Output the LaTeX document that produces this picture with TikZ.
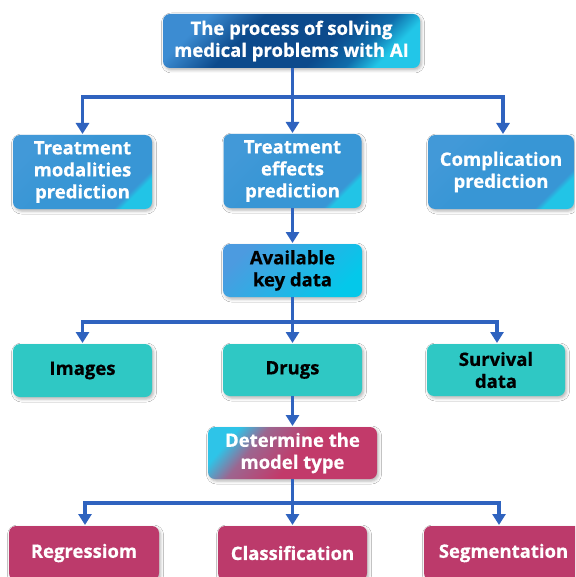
\documentclass[tikz,border=0pt]{standalone}
\usepackage{fontspec}
\setmainfont{Open Sans}[BoldFeatures={FakeBold=0.5}]
\usetikzlibrary{shadows.blur,arrows.meta}

% palette
\definecolor{wireblue}{HTML}{2F63BF}
\definecolor{navytop}{HTML}{3C8CD2}
\definecolor{navydeep}{HTML}{0C4A8C}
\definecolor{navymid}{HTML}{0F6CAA}
\definecolor{cyanhi}{HTML}{22C6E8}
\definecolor{skyA}{HTML}{4299D8}
\definecolor{skyB}{HTML}{3896D5}
\definecolor{skyC}{HTML}{22C4E6}
\definecolor{keyA}{HTML}{4C9BE0}
\definecolor{keyB}{HTML}{04C8EA}
\definecolor{tealbox}{HTML}{2FC8C4}
\definecolor{magbox}{HTML}{BC3A6B}
\definecolor{mixA}{HTML}{2EC4E8}
\definecolor{mixB}{HTML}{9C6690}
\definecolor{mixC}{HTML}{C23A6A}

% diagonal fills (used with a shading angle)
\pgfdeclareverticalshading{navyglass}{100bp}{color(0bp)=(cyanhi); color(25bp)=(cyanhi); color(32bp)=(navymid); color(41bp)=(navydeep); color(62bp)=(navydeep); color(75bp)=(navytop); color(100bp)=(navytop)}
\pgfdeclareverticalshading{skyglass}{100bp}{color(0bp)=(skyC); color(25bp)=(skyC); color(27.5bp)=(skyB); color(55bp)=(skyB); color(75bp)=(skyA); color(100bp)=(skyA)}
\pgfdeclareverticalshading{keyglass}{100bp}{color(0bp)=(keyB); color(25bp)=(keyB); color(75bp)=(keyA); color(100bp)=(keyA)}
\pgfdeclareverticalshading{mixglass}{100bp}{color(0bp)=(mixC); color(25bp)=(mixC); color(48bp)=(mixC); color(65bp)=(mixB); color(75bp)=(mixA); color(100bp)=(mixA)}

\tikzset{
  box/.style={rounded corners=7pt, inner sep=0pt, outer sep=0pt, align=center,
    font=\bfseries\fontsize{18.5}{22}\selectfont,
    blur shadow={shadow xshift=1.5pt, shadow yshift=-2pt, shadow blur radius=3pt, shadow opacity=30}},
  navybox/.style={box, shading=navyglass, shading angle=45, text=white},
  skybox/.style={box, shading=skyglass, shading angle=45, text=white},
  keybox/.style={box, shading=keyglass, shading angle=45, text=black},
  tealnode/.style={box, fill=tealbox, text=black},
  mixbox/.style={box, shading=mixglass, shading angle=50, text=white},
  magnode/.style={box, fill=magbox, text=white},
  wire/.style={draw=wireblue, line width=3.6pt},
  tip/.style={wire, -{Triangle[length=11pt,width=13pt]}, shorten >=1pt}
}

\begin{document}
\begin{tikzpicture}[x=1pt,y=-1pt]
\useasboundingbox (0,0) rectangle (575,577);
\fill[white] (0,0) rectangle (575,577);
\clip (0,0) rectangle (575,577);

% boxes
\node[navybox, minimum width=257pt, minimum height=54pt] (top) at (291.5,41)
  {The process of solving\\medical problems with AI};

\node[skybox, minimum width=139pt, minimum height=74pt] (tm) at (82.5,172)
  {Treatment\\modalities\\prediction};
\node[skybox, minimum width=138pt, minimum height=74pt] (te) at (292.5,171)
  {Treatment\\effects\\prediction};
\node[skybox, minimum width=146pt, minimum height=74pt] (cp) at (501,172)
  {Complication\\prediction};

\node[keybox, minimum width=139pt, minimum height=53pt] (akd) at (292.5,270.5)
  {Available\\key data};

\node[tealnode, minimum width=139pt, minimum height=53pt] (img) at (82.5,370.5) {Images};
\node[tealnode, minimum width=139pt, minimum height=52pt] (drg) at (292.5,370) {Drugs};
\node[tealnode, minimum width=138pt, minimum height=52pt] (sur) at (496,370) {Survival\\data};

\node[mixbox, minimum width=169pt, minimum height=52pt] (det) at (292.5,453)
  {Determine the\\model type};

\node[magnode, minimum width=150pt, minimum height=54pt] (reg) at (84,553) {Regressiom};
\node[magnode, minimum width=149pt, minimum height=54pt] (cls) at (292.5,553) {Classification};
\node[magnode, minimum width=159pt, minimum height=54pt] (seg) at (503.5,553) {Segmentation};

% bus levels
\coordinate (busA) at (0,97);
\coordinate (busB) at (0,322);
\coordinate (busC) at (0,503);

% first level
\draw[tip] (top.south -| te.north) -- (te.north);
\draw[tip] (te.north |- busA) -| (tm.north);
\draw[tip] (te.north |- busA) -| ([xshift=2pt]cp.north);

% second level
\draw[tip] (te.south) -- (akd.north);

% third level
\draw[tip] (akd.south) -- (drg.north);
\draw[tip] (akd.south |- busB) -| (img.north);
\draw[tip] (akd.south |- busB) -| ([xshift=1pt]sur.north);

% fourth level
\draw[tip] (drg.south) -- (det.north);

% fifth level
\draw[tip] (det.south) -- (cls.north);
\draw[tip] (det.south |- busC) -| ([xshift=1pt]reg.north);
\draw[tip] (det.south |- busC) -| ([xshift=-4.5pt]seg.north);
\end{tikzpicture}
\end{document}
